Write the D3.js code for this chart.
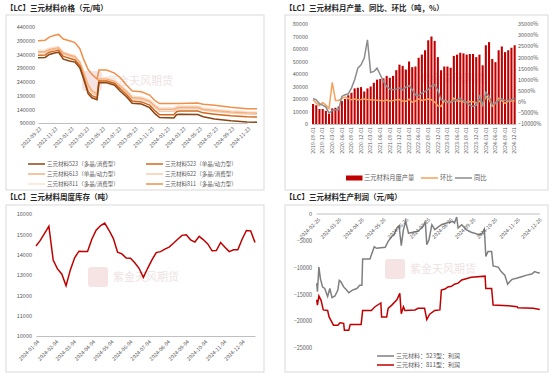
<!DOCTYPE html>
<html>
<head>
<meta charset="utf-8">
<style>
  body { margin: 0; background: #fff; }
  svg text { font-family: "Noto Sans CJK SC", "Noto Sans", sans-serif; }
</style>
</head>
<body>
<svg width="550" height="374"></svg>
<script src="https://d3js.org/d3.v7.min.js"></script>
<script>
// ---------- panel 1: prices ----------
var priceDates = ["2022-09-23","2022-10-20","2022-11-05","2022-11-25","2022-12-10","2022-12-28","2023-01-20","2023-02-10",
  "2023-03-01","2023-03-15","2023-04-01","2023-04-15","2023-05-05","2023-05-12","2023-06-10","2023-07-10","2023-08-01",
  "2023-08-25","2023-09-15","2023-10-20","2023-11-20","2023-12-10","2023-12-28","2024-02-20","2024-03-01","2024-03-10",
  "2024-05-20","2024-06-10","2024-07-23","2024-09-23","2024-11-23","2024-12-31"];
var p523poly = [328000,329000,340000,345000,348000,323000,316000,312000,290000,250000,197000,182000,175000,237000,237000,228000,
  206000,185000,162000,159000,146000,124000,110000,108000,120000,122000,121000,113000,105000,98000,94000,93000];
var p523mono = [337000,338000,348000,352000,355000,333000,326000,320000,298000,258000,205000,190000,182000,243000,243000,234000,
  214000,193000,170000,167000,155000,135000,120000,120000,131000,134000,134000,127000,122000,116000,113000,112000];
var p613mono = [350000,351000,358000,362000,364000,345000,338000,332000,310000,275000,230000,208000,195000,250000,250000,242000,
  225000,205000,183000,180000,170000,152000,140000,140000,145000,147000,147000,140000,136000,130000,127000,126000];
var p622poly = [346000,347000,354000,358000,360000,341000,334000,328000,305000,268000,222000,200000,190000,245000,245000,237000,
  220000,200000,178000,175000,165000,147000,133000,133000,140000,142000,143000,136000,132000,126000,123000,122000];
var p811poly = [355000,356000,363000,366000,368000,350000,342000,336000,315000,280000,238000,214000,200000,256000,256000,248000,
  230000,210000,188000,185000,175000,157000,146000,146000,150000,152000,152000,146000,141000,135000,131000,130000];
var p811power = [390000,392000,403000,410000,413000,396000,390000,383000,360000,322000,285000,268000,250000,283000,283000,272000,
  255000,228000,207000,204000,192000,172000,161000,161000,161000,161000,163000,158000,155000,147000,142000,142000];
var priceTicks = ["2022-09-23","2022-11-23","2023-01-23","2023-03-23","2023-05-23","2023-07-23","2023-09-23","2023-11-23",
  "2024-01-23","2024-03-23","2024-05-23","2024-07-23","2024-09-23","2024-11-23"];
var priceYTicks = [90000,140000,190000,240000,290000,340000,390000,440000];

// ---------- panel 2: monthly output ----------
var months = ["2019-09-01","2019-10-01","2019-11-01","2019-12-01",
  "2020-01-01","2020-02-01","2020-03-01","2020-04-01","2020-05-01","2020-06-01","2020-07-01","2020-08-01","2020-09-01","2020-10-01","2020-11-01","2020-12-01",
  "2021-01-01","2021-02-01","2021-03-01","2021-04-01","2021-05-01","2021-06-01","2021-07-01","2021-08-01","2021-09-01","2021-10-01","2021-11-01","2021-12-01",
  "2022-01-01","2022-02-01","2022-03-01","2022-04-01","2022-05-01","2022-06-01","2022-07-01","2022-08-01","2022-09-01","2022-10-01","2022-11-01","2022-12-01",
  "2023-01-01","2023-02-01","2023-03-01","2023-04-01","2023-05-01","2023-06-01","2023-07-01","2023-08-01","2023-09-01","2023-10-01","2023-11-01","2023-12-01",
  "2024-01-01","2024-02-01","2024-03-01","2024-04-01","2024-05-01","2024-06-01","2024-07-01","2024-08-01","2024-09-01","2024-10-01","2024-11-01","2024-12-01"];
var output = [16000,15000,12000,12000,10500,8000,12500,13000,14000,18500,20000,23000,25000,28500,29000,29500,
  26000,28500,30000,33000,35500,36000,36500,38500,37000,38500,43000,47500,46500,43500,50000,45500,46000,53000,55500,59000,
  67000,70000,66500,53500,43000,46000,46000,45000,54500,55500,57000,56500,55500,56000,56000,53500,
  55500,47000,63000,65500,52000,49500,59000,62000,57500,59000,61000,63000];
var mom = [900,-600,-1800,-300,-1500,-3000,8700,600,600,1500,2100,1500,900,1200,900,1000,
  1200,1000,900,800,700,600,500,800,400,600,900,1000,300,200,1200,-200,300,1300,600,900,
  1200,900,-100,-1800,-2100,500,100,-300,1600,300,200,-100,-200,100,0,-500,
  400,-1500,2400,1200,-2000,-700,1600,500,-700,300,400,400];
var yoy = [1500,900,-900,-1500,-2400,-5100,-3900,-3600,-3600,2400,3150,3600,6150,9900,15150,16650,
  19650,27900,13200,13650,15150,12150,9150,6900,5700,5400,5700,6150,5400,6600,7200,5400,3150,2700,3900,4650,
  5400,7200,7650,5400,900,600,-300,0,300,900,1500,450,-300,-1500,-2100,-1500,
  2400,-1350,4200,2400,-1350,-600,600,1200,600,600,900,1500];
var outTicks = [0,10000,20000,30000,40000,50000,60000,70000,80000];
var pctTicks = [-10000,-5000,0,5000,10000,15000,20000,25000,30000,35000];

// ---------- panel 3: weekly inventory ----------
var weeks = ["2024-01-04","2024-01-11","2024-01-18","2024-01-25","2024-02-01","2024-02-08","2024-02-15","2024-02-22","2024-02-29",
  "2024-03-07","2024-03-14","2024-03-21","2024-03-28","2024-04-04","2024-04-11","2024-04-18","2024-04-25",
  "2024-05-02","2024-05-09","2024-05-16","2024-05-23","2024-05-30","2024-06-06","2024-06-13","2024-06-20","2024-06-27",
  "2024-07-04","2024-07-11","2024-07-18","2024-07-25","2024-08-01","2024-08-08","2024-08-15","2024-08-22","2024-08-29",
  "2024-09-05","2024-09-12","2024-09-19","2024-09-26","2024-10-03","2024-10-10","2024-10-17","2024-10-24","2024-10-31",
  "2024-11-07","2024-11-14","2024-11-21","2024-11-28","2024-12-05","2024-12-12","2024-12-19","2024-12-26"];
var inventory = [14430,14700,15050,15400,13740,13300,13050,12470,13250,13850,14170,14150,14150,14760,15200,15420,15550,
  15200,14800,14120,14040,13840,13820,13600,13330,12880,13330,13740,14100,14150,14270,14370,14560,14760,14950,
  14980,14730,14620,14900,14730,14530,14190,14200,14600,14370,14150,14240,14240,14760,15190,15170,14600];
var invTicks = ["2024-01-04","2024-02-04","2024-03-04","2024-04-04","2024-05-04","2024-06-04","2024-07-04","2024-08-04",
  "2024-09-04","2024-10-04","2024-11-04","2024-12-04"];
var invYTicks = [10000,11000,12000,13000,14000,15000,16000];

// ---------- panel 4: production profit ----------
var profit523Dates = ["2024-02-26","2024-02-27","2024-02-29","2024-03-02","2024-03-05","2024-03-08","2024-03-12","2024-03-15",
  "2024-03-18","2024-03-22","2024-03-26","2024-03-28","2024-03-30","2024-04-03","2024-04-07","2024-04-10","2024-04-15",
  "2024-04-21","2024-04-25","2024-04-28","2024-04-29","2024-05-09","2024-05-15","2024-05-18","2024-05-30","2024-06-03",
  "2024-06-08","2024-06-11","2024-06-15","2024-06-18","2024-06-21","2024-06-24","2024-06-27","2024-07-01","2024-07-07",
  "2024-07-14","2024-07-21","2024-07-24","2024-07-26","2024-07-29","2024-08-02","2024-08-06","2024-08-15","2024-08-24",
  "2024-08-31","2024-09-02","2024-09-05","2024-09-07","2024-09-12","2024-09-18","2024-09-25","2024-10-07","2024-10-10",
  "2024-10-13","2024-10-15","2024-10-18","2024-10-23","2024-10-25","2024-11-01","2024-11-05","2024-11-10","2024-11-14",
  "2024-11-17","2024-11-20","2024-11-26","2024-12-03","2024-12-10","2024-12-17","2024-12-21","2024-12-26","2024-12-28"];
var profit523 = [-12900,-14500,-9900,-12000,-13600,-13900,-15400,-13900,-15600,-15300,-14200,-12400,-12600,-13600,-14200,
  -14700,-14200,-13900,-13300,-13300,-8400,-8400,-6100,-6400,-6200,-5100,-4200,-3900,-2600,-2200,-5900,-2900,-1400,-3600,
  -3400,-3250,-2300,-1400,-5750,-4800,-2000,-2900,-2000,-1600,-1400,-1700,-560,-2600,-2000,-2900,-3400,-3900,-3600,-2800,
  -7900,-7000,-7000,-9700,-9900,-10750,-11400,-13100,-12600,-12200,-12000,-11700,-11400,-11200,-10750,-11000,-10900];
var profit811Dates = ["2024-02-26","2024-02-27","2024-02-29","2024-03-03","2024-03-06","2024-03-12","2024-03-14","2024-03-20",
  "2024-03-26","2024-03-29","2024-04-03","2024-04-04","2024-04-10","2024-04-12","2024-04-27","2024-04-29","2024-05-11",
  "2024-05-16","2024-05-24","2024-05-25","2024-06-01","2024-06-03","2024-06-08","2024-06-15","2024-06-19","2024-06-21",
  "2024-06-24","2024-06-26","2024-07-10","2024-07-14","2024-07-23","2024-07-26","2024-07-30","2024-08-06","2024-08-13",
  "2024-08-15","2024-08-20","2024-08-24","2024-08-29","2024-09-02","2024-09-07","2024-09-12","2024-09-25","2024-10-14",
  "2024-10-15","2024-10-23","2024-10-25","2024-11-15","2024-11-27","2024-11-28","2024-12-19","2024-12-28"];
var profit811 = [-16000,-17000,-15300,-16100,-17900,-18000,-19200,-20750,-20750,-20300,-20400,-21700,-21700,-20600,-20600,
  -18000,-18000,-17300,-16600,-19200,-19200,-17600,-17000,-16000,-14800,-18600,-17300,-18000,-17900,-17600,-17600,-19700,
  -18700,-18000,-17900,-14200,-14000,-13600,-13500,-13100,-12900,-12300,-11800,-11600,-13900,-13900,-17000,-17100,-17300,
  -17500,-17600,-17800];
var profitTicks = ["2024-02-26","2024-03-26","2024-04-26","2024-05-26","2024-06-26","2024-07-26","2024-08-26","2024-09-26",
  "2024-10-26","2024-11-26","2024-12-26"];
var profitYTicks = [0,-5000,-10000,-15000,-20000,-25000];

var parse = d3.timeParse("%Y-%m-%d");
var fmt = d3.timeFormat("%Y-%m-%d");
var num = d3.format("d");
var svg = d3.select("svg");

// panel frame, title and faint watermark
function frame(x, y, w, h) {
  svg.append("rect").attr("x", x).attr("y", y).attr("width", w).attr("height", h)
    .attr("fill", "none").attr("stroke", "#d9d9d9").attr("stroke-width", 1);
}
function title(x, y, t) {
  svg.append("text").attr("x", x).attr("y", y).attr("font-size", 7.5).attr("font-weight", "bold")
    .attr("fill", "#262626").text(t);
}
function watermark(x, y) {
  var w = svg.append("g").attr("transform", "translate(" + x + "," + y + ")").attr("opacity", 0.3);
  w.append("rect").attr("x", 0).attr("y", -11).attr("width", 20).attr("height", 20).attr("rx", 3)
    .attr("fill", "#e3a5a5");
  w.append("text").attr("x", 25).attr("y", 3).attr("font-size", 11).attr("fill", "#c8a0a0").text("紫金天风期货");
}
function styleAxis(g, size) {
  g.selectAll("text").attr("fill", "#595959").attr("font-size", size || 5.5);
  g.selectAll(".tick line").attr("stroke", "#bfbfbf");
  g.select(".domain").attr("stroke", "#bfbfbf");
}
function slantLabels(g) {
  g.selectAll("text").attr("y", 0).attr("dy", "0.35em").attr("text-anchor", "end")
    .attr("transform", "translate(2,5) rotate(-45)");
}

frame(6, 15, 258, 175);
frame(285, 15, 263, 175);
frame(6, 205, 258, 167);
frame(285, 205, 263, 167);

// ================= panel 1 =================
title(6, 11, "【LC】三元材料价格（元/吨）");
watermark(82, 82);

var x1 = d3.scaleTime().domain([parse("2022-09-23"), parse("2024-11-23")]).range([38, 247]);
var y1 = d3.scaleLinear().domain([90000, 440000]).range([123, 27]);

var ax1 = svg.append("g").attr("transform", "translate(0,123)")
  .call(d3.axisBottom(x1).tickValues(priceTicks.map(parse)).tickFormat(fmt).tickSize(0));
styleAxis(ax1, 5.2); slantLabels(ax1);
var ay1 = svg.append("g").attr("transform", "translate(36,0)")
  .call(d3.axisLeft(y1).tickValues(priceYTicks).tickFormat(num).tickSize(0).tickPadding(1));
ay1.select(".domain").remove(); styleAxis(ay1);

var priceSeries = [
  {name: "三元材料811（多晶/消费型）", values: p811poly, color: "#fbe3d2"},
  {name: "三元材料622（多晶/消费型）", values: p622poly, color: "#f8cbad"},
  {name: "三元材料613（单晶/动力型）", values: p613mono, color: "#f4b183"},
  {name: "三元材料523（单晶/动力型）", values: p523mono, color: "#d2691e"},
  {name: "三元材料523（多晶/消费型）", values: p523poly, color: "#8b4513"},
  {name: "三元材料811（多晶/动力型）", values: p811power, color: "#f0904a"}
];
var line1 = d3.line().x(function(d) { return x1(d.date); }).y(function(d) { return y1(d.v); });
priceSeries.forEach(function(s) {
  var pts = priceDates.map(function(d, i) { return {date: parse(d), v: s.values[i]}; });
  svg.append("path").datum(pts).attr("fill", "none").attr("stroke", s.color)
    .attr("stroke-width", 1.5).attr("d", line1);
});

// legend: 3 rows x 2 columns
var legendOrder = [4, 3, 2, 1, 0, 5];
legendOrder.forEach(function(k, i) {
  var s = priceSeries[k];
  var lx = (i % 2 === 0) ? 28 : 146, ly = 164 + Math.floor(i / 2) * 10;
  svg.append("line").attr("x1", lx).attr("x2", lx + 17).attr("y1", ly).attr("y2", ly)
    .attr("stroke", s.color).attr("stroke-width", 1.5);
  svg.append("text").attr("x", lx + 19).attr("y", ly).attr("dy", "0.35em").attr("font-size", 5.5)
    .attr("fill", "#595959").text(s.name);
});

// ================= panel 2 =================
title(285, 11, "【LC】三元材料月产量、同比、环比（吨，%）");
watermark(395, 80);

var x2 = d3.scaleBand().domain(months).range([311.7, 516]).paddingInner(0.35).paddingOuter(0.1);
var y2 = d3.scaleLinear().domain([0, 80000]).range([124, 24]);
var y2r = d3.scaleLinear().domain([-10000, 35000]).range([124, 24]);

svg.append("g").selectAll("rect").data(months).enter().append("rect")
  .attr("x", function(d) { return x2(d); })
  .attr("y", function(d, i) { return y2(output[i]); })
  .attr("width", x2.bandwidth())
  .attr("height", function(d, i) { return y2(0) - y2(output[i]); })
  .attr("fill", "#c00000");

var cx = function(d) { return x2(d.m) + x2.bandwidth() / 2; };
var line2 = d3.line().x(cx).y(function(d) { return y2r(d.v); });
svg.append("path").datum(months.map(function(m, i) { return {m: m, v: mom[i]}; }))
  .attr("fill", "none").attr("stroke", "#f4a15d").attr("stroke-width", 1.5).attr("d", line2);
svg.append("path").datum(months.map(function(m, i) { return {m: m, v: yoy[i]}; }))
  .attr("fill", "none").attr("stroke", "#8c8c8c").attr("stroke-width", 1.5).attr("d", line2);

var ax2 = svg.append("g").attr("transform", "translate(0,124)")
  .call(d3.axisBottom(x2).tickValues(months.filter(function(d, i) { return i % 3 === 0; })).tickSize(0));
styleAxis(ax2, 5.2);
ax2.selectAll("text").attr("y", 0).attr("dy", "0.35em").attr("text-anchor", "end")
  .attr("transform", "translate(0,3) rotate(-90)");
var ay2 = svg.append("g").attr("transform", "translate(309,0)")
  .call(d3.axisLeft(y2).tickValues(outTicks).tickFormat(num).tickSize(0).tickPadding(1));
ay2.select(".domain").remove(); styleAxis(ay2);
var ay2r = svg.append("g").attr("transform", "translate(517,0)")
  .call(d3.axisRight(y2r).tickValues(pctTicks).tickSize(0).tickPadding(1)
    .tickFormat(function(d) { return num(d) + "%"; }));
ay2r.select(".domain").remove(); styleAxis(ay2r);

// legend
var lg2 = svg.append("g").attr("font-size", 6.3).attr("fill", "#595959");
lg2.append("rect").attr("x", 346).attr("y", 175.5).attr("width", 16.5).attr("height", 5).attr("fill", "#c00000");
lg2.append("text").attr("x", 364).attr("y", 178).attr("dy", "0.35em").text("三元材料月度产量");
lg2.append("line").attr("x1", 421).attr("x2", 438).attr("y1", 178).attr("y2", 178)
  .attr("stroke", "#f4a15d").attr("stroke-width", 1.5);
lg2.append("text").attr("x", 440).attr("y", 178).attr("dy", "0.35em").text("环比");
lg2.append("line").attr("x1", 455).attr("x2", 472).attr("y1", 178).attr("y2", 178)
  .attr("stroke", "#8c8c8c").attr("stroke-width", 1.5);
lg2.append("text").attr("x", 474).attr("y", 178).attr("dy", "0.35em").text("同比");

// ================= panel 3 =================
title(6, 200, "【LC】三元材料周度库存（吨）");
watermark(88, 278);

var x3 = d3.scaleTime().domain([parse("2024-01-04"), parse("2024-12-26")]).range([36, 255]);
var y3 = d3.scaleLinear().domain([10000, 16000]).range([336, 214]);

var ax3 = svg.append("g").attr("transform", "translate(0,336)")
  .call(d3.axisBottom(x3).tickValues(invTicks.map(parse)).tickFormat(fmt).tickSize(0));
styleAxis(ax3, 5.2); slantLabels(ax3);
var ay3 = svg.append("g").attr("transform", "translate(33,0)")
  .call(d3.axisLeft(y3).tickValues(invYTicks).tickFormat(num).tickSize(0).tickPadding(1));
ay3.select(".domain").remove(); styleAxis(ay3);

svg.append("path").datum(weeks.map(function(d, i) { return {date: parse(d), v: inventory[i]}; }))
  .attr("fill", "none").attr("stroke", "#c00000").attr("stroke-width", 1.5)
  .attr("d", d3.line().x(function(d) { return x3(d.date); }).y(function(d) { return y3(d.v); }));

// ================= panel 4 =================
title(285, 200, "【LC】三元材料生产利润（元/吨）");
watermark(385, 270);

var x4 = d3.scaleTime().domain([parse("2024-02-26"), parse("2024-12-26")]).range([316.7, 538.3]);
var y4 = d3.scaleLinear().domain([-25000, 0]).range([348, 214]);

var ay4 = svg.append("g").attr("transform", "translate(313,0)")
  .call(d3.axisLeft(y4).tickValues(profitYTicks).tickFormat(num).tickSize(0).tickPadding(1));
ay4.select(".domain").remove(); styleAxis(ay4);

var line4 = d3.line().x(function(d) { return x4(d.date); }).y(function(d) { return y4(d.v); });
svg.append("path").datum(profit523Dates.map(function(d, i) { return {date: parse(d), v: profit523[i]}; }))
  .attr("fill", "none").attr("stroke", "#7f7f7f").attr("stroke-width", 1.5).attr("d", line4);
svg.append("path").datum(profit811Dates.map(function(d, i) { return {date: parse(d), v: profit811[i]}; }))
  .attr("fill", "none").attr("stroke", "#c00000").attr("stroke-width", 1.5).attr("d", line4);

var ax4 = svg.append("g").attr("transform", "translate(0,214)")
  .call(d3.axisBottom(x4).tickValues(profitTicks.map(parse)).tickFormat(fmt).tickSize(0));
ax4.select(".domain").attr("d", "M316.7,0H540");
styleAxis(ax4, 5.2); slantLabels(ax4);

var lg4 = svg.append("g").attr("font-size", 6).attr("fill", "#595959");
lg4.append("line").attr("x1", 377).attr("x2", 394).attr("y1", 356).attr("y2", 356)
  .attr("stroke", "#7f7f7f").attr("stroke-width", 1.5);
lg4.append("text").attr("x", 396).attr("y", 356).attr("dy", "0.35em").text("三元材料：523型：利润");
lg4.append("line").attr("x1", 377).attr("x2", 394).attr("y1", 365).attr("y2", 365)
  .attr("stroke", "#c00000").attr("stroke-width", 1.5);
lg4.append("text").attr("x", 396).attr("y", 365).attr("dy", "0.35em").text("三元材料：811型：利润");
</script>
</body>
</html>
